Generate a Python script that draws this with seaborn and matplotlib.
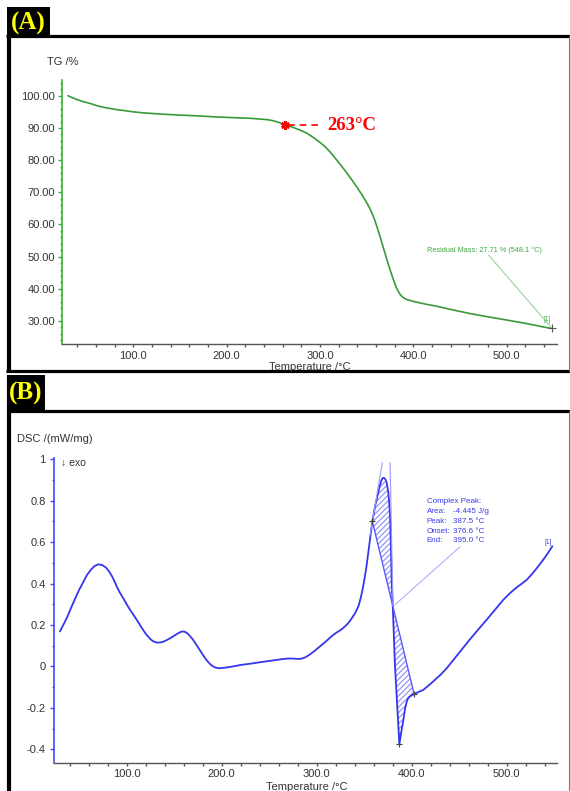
import numpy as np
import pandas as pd
import matplotlib
matplotlib.use("Agg")
import matplotlib.pyplot as plt
import seaborn as sns
from matplotlib.lines import Line2D
from matplotlib.patches import Rectangle
from matplotlib.ticker import MultipleLocator, FixedLocator, FixedFormatter, FormatStrFormatter

# ---------------- data ----------------
tg_temp = [30, 34, 38, 42, 46, 50, 55, 60, 64, 70, 76, 82, 90, 100, 110, 120, 136, 150,
           172, 190, 207, 225, 243, 249, 255, 259, 263, 270, 279, 285, 290, 295, 300, 305,
           310, 314, 318, 324, 330, 335, 340, 345, 350, 353, 356, 358.5, 361, 363.5, 366,
           369, 372, 375, 378, 380, 382, 384, 386, 388, 390, 393, 396, 400, 412, 425, 443,
           461, 478, 496, 514, 532, 540, 548.1]
tg_mass = [100.0, 99.5, 99.0, 98.6, 98.2, 97.9, 97.5, 97.0, 96.7, 96.3, 96.0, 95.7, 95.4,
           95.0, 94.7, 94.5, 94.2, 94.0, 93.7, 93.4, 93.2, 93.0, 92.6, 92.3, 91.8, 91.4,
           91.0, 90.3, 89.3, 88.5, 87.6, 86.6, 85.5, 84.3, 82.8, 81.45, 80.0, 77.8, 75.5,
           73.5, 71.4, 69.2, 66.8, 65.2, 63.3, 61.5, 59.3, 57.0, 54.6, 51.7, 48.8, 46.0,
           43.4, 41.8, 40.3, 39.1, 38.2, 37.6, 37.1, 36.7, 36.4, 36.1, 35.3, 34.6, 33.4,
           32.3, 31.4, 30.5, 29.6, 28.6, 28.1, 27.71]

dsc_temp = [29.8, 33, 37, 41, 45, 50, 54, 58, 62, 66, 70, 74, 78, 81, 84, 87, 89.5, 93, 95,
            100, 104, 107, 111, 116, 120, 124.5, 127, 130, 133, 136, 140, 145, 149, 153,
            157, 160, 163, 166, 170, 174, 178, 181, 185, 189, 193, 197, 202, 207, 212, 220,
            230, 240, 248, 256, 265, 270, 275, 280, 284, 288, 292, 297, 303, 310, 316, 321,
            325, 328, 332, 335, 338, 341, 344, 346, 348, 350, 352, 354, 356, 358.6, 361.5,
            364, 366.7, 368, 369.5, 371, 372.5, 373.7, 375.4, 376.3, 377.2, 378.2, 379,
            380, 381.2, 382.4, 383.7, 384.9, 386, 387, 388, 389, 391.2, 393, 394.8, 396.5,
            398.2, 402.5, 407, 412.3, 417, 422.8, 426, 430, 437, 444, 452, 461, 470, 479,
            488, 496.5, 503, 510, 516, 521, 526, 530, 535, 540, 544, 548]
dsc_val = [0.169, 0.198, 0.234, 0.278, 0.320, 0.370, 0.405, 0.440, 0.465, 0.484, 0.493,
           0.490, 0.478, 0.462, 0.440, 0.413, 0.386, 0.355, 0.340, 0.300, 0.270, 0.250,
           0.222, 0.185, 0.158, 0.134, 0.124, 0.117, 0.115, 0.116, 0.122, 0.134, 0.145,
           0.157, 0.167, 0.169, 0.163, 0.150, 0.128, 0.100, 0.072, 0.050, 0.025, 0.006,
           -0.005, -0.009, -0.007, -0.004, 0.000, 0.007, 0.013, 0.020, 0.025, 0.030, 0.036,
           0.038, 0.038, 0.036, 0.037, 0.044, 0.055, 0.072, 0.095, 0.122, 0.147, 0.164,
           0.175, 0.186, 0.203, 0.220, 0.240, 0.262, 0.292, 0.325, 0.365, 0.415, 0.470,
           0.540, 0.610, 0.700, 0.775, 0.825, 0.876, 0.897, 0.910, 0.910, 0.902, 0.886,
           0.839, 0.790, 0.725, 0.564, 0.404, 0.300, 0.150, 0.000, -0.105, -0.209, -0.300,
           -0.375, -0.348, -0.318, -0.258, -0.205, -0.169, -0.152, -0.145, -0.133, -0.124,
           -0.113, -0.095, -0.072, -0.058, -0.042, -0.008, 0.032, 0.078, 0.129, 0.178,
           0.226, 0.275, 0.322, 0.352, 0.380, 0.400, 0.418, 0.443, 0.465, 0.494, 0.525,
           0.552, 0.580]

onset_temp, onset_mass = 263, 90.9
residual_temp, residual_mass = 548.1, 27.71
base_start = (358.6, 0.700)
base_end = (402.5, -0.133)
dsc_min = (387.0, -0.375)
tangent1 = ([356.0, 369.1], [0.63, 0.984])
tangent2 = ([377.2, 380.3], [0.984, 0.293])

tg_xticks = [100, 200, 300, 400, 500]
tg_yticks = [30, 40, 50, 60, 70, 80, 90, 100]
dsc_xticks = [100, 200, 300, 400, 500]
dsc_yticks = [-0.4, -0.2, 0, 0.2, 0.4, 0.6, 0.8, 1]
dsc_ylabels = ["-0.4", "-0.2", "0", "0.2", "0.4", "0.6", "0.8", "1"]

peak_labels = ["Complex Peak:", "Area:", "Peak:", "Onset:", "End:"]
peak_values = ["", "-4.445 J/g", "387.5 \u00b0C", "376.6 \u00b0C", "395.0 \u00b0C"]

# ---------------- style ----------------
sns.set_style("white")
plt.rcParams["font.family"] = ["Liberation Sans", "DejaVu Sans"]
plt.rcParams["hatch.linewidth"] = 0.8

W, H = 570, 791
fig = plt.figure(figsize=(W / 100, H / 100), dpi=100)
fig.patch.set_facecolor("white")

def fx(x):
    return x / W

def fy(y):
    return 1 - y / H

GREEN = "#3a9a3a"
GSPINE = "#36b036"
BLUE = "#3535ee"
BSPINE = "#4848ff"
GRAY = "#555555"
TXT = "#333333"

# ---------------- frames ----------------
def seg(xs, ys, lw, color):
    fig.add_artist(Line2D([fx(v) for v in xs], [fy(v) for v in ys], transform=fig.transFigure,
                          lw=lw, color=color, solid_capstyle="butt"))

# panel A frame
seg([6, 570], [36, 36], 2.3, "black")
seg([8.5, 8.5], [34.5, 373], 3.0, "black")
seg([6, 570], [371.5, 371.5], 2.3, "black")
seg([568.5, 568.5], [36, 371], 0.8, "#777777")
fig.add_artist(Rectangle((fx(7), fy(38)), (50 - 7) / W, (38 - 7) / H, transform=fig.transFigure,
                         facecolor="black", edgecolor="none"))
fig.text(fx(28.5), fy(23), "(A)", color="#ffff00", fontsize=18, fontweight="bold",
         family=["Liberation Serif", "DejaVu Serif"], ha="center", va="center")

# panel B frame
seg([7, 570], [410.5, 410.5], 2.3, "black")
seg([8.5, 8.5], [375, 791], 3.0, "black")
seg([568.5, 568.5], [411, 791], 0.8, "#777777")
fig.add_artist(Rectangle((fx(7), fy(411)), (45 - 7) / W, (411 - 375) / H, transform=fig.transFigure,
                         facecolor="black", edgecolor="none"))
fig.text(fx(26), fy(393), "(B)", color="#ffff00", fontsize=18, fontweight="bold",
         family=["Liberation Serif", "DejaVu Serif"], ha="center", va="center")

# ---------------- panel A: TG ----------------
axA = fig.add_axes([fx(62), fy(344.3), (556.7 - 62) / W, (344.3 - 80) / H])
axA.set_facecolor("none")
dfA = pd.DataFrame({"T": tg_temp, "TG": tg_mass})
sns.lineplot(data=dfA, x="T", y="TG", ax=axA, color=GREEN, lw=1.2, estimator=None, sort=False)
axA.set_xlim(23.6, 553.6)
axA.set_ylim(22.76, 104.9)
axA.set_xlabel("")
axA.set_ylabel("")
for s in ["top", "right"]:
    axA.spines[s].set_visible(False)
axA.spines["left"].set_color(GSPINE)
axA.spines["left"].set_linewidth(1.2)
axA.spines["bottom"].set_color(GRAY)
axA.spines["bottom"].set_linewidth(1.0)
axA.xaxis.set_major_locator(FixedLocator(tg_xticks))
axA.xaxis.set_major_formatter(FormatStrFormatter("%.1f"))
axA.xaxis.set_minor_locator(MultipleLocator(20))
axA.yaxis.set_major_locator(FixedLocator(tg_yticks))
axA.yaxis.set_major_formatter(FormatStrFormatter("%.2f"))
axA.yaxis.set_minor_locator(MultipleLocator(2))
axA.tick_params(axis="y", which="major", direction="out", length=3, width=1, color=GSPINE,
                labelcolor=TXT, labelsize=8, pad=2, left=True)
axA.tick_params(axis="y", which="minor", direction="out", length=1.5, width=1, color=GSPINE, left=True)
axA.tick_params(axis="x", which="major", direction="out", length=2.5, width=1, color=GRAY,
                labelcolor=TXT, labelsize=8, pad=2, bottom=True)
axA.tick_params(axis="x", which="minor", direction="out", length=2, width=1, color=GRAY, bottom=True)

# onset marker and label
axA.plot([onset_temp + 3, onset_temp + 40], [onset_mass, onset_mass], color="red", lw=1.2,
         ls=(0, (4, 3)))
axA.plot([onset_temp], [onset_mass], marker=(6, 2, 0), color="red", ms=6, mew=2)
axA.text(onset_temp + 44.5, onset_mass, "263\u00b0C", color="red", fontsize=13.5, fontweight="bold",
         family=["Liberation Serif", "DejaVu Serif"], ha="left", va="center")

# residual mass annotation
axA.plot([480.5, residual_temp], [50.5, residual_mass + 0.2], color="#9ed09e", lw=0.8)
axA.plot([residual_temp], [residual_mass], marker="+", color="#555555", ms=6, mew=0.8)
axA.text(414.5, 51.9, "Residual Mass: 27.71 % (548.1 \u00b0C)", color="#40a840", fontsize=5.3,
         ha="left", va="center")
axA.text(543, 30.6, "[1]", color="#40a840", fontsize=4.8, ha="center", va="center")

fig.text(fx(47), fy(62), "TG /%", color=TXT, fontsize=8, ha="left", va="center")
fig.text(fx(310), fy(366.5), "Temperature /\u00b0C", color=TXT, fontsize=8, ha="center", va="center")

# ---------------- panel B: DSC ----------------
axB = fig.add_axes([fx(54), fy(762.7), (556.7 - 54) / W, (762.7 - 458.3) / H])
axB.set_facecolor("none")
dfB = pd.DataFrame({"T": dsc_temp, "DSC": dsc_val})

# hatched peak area between the curve and the baseline chord
t_arr = np.array(dsc_temp)
v_arr = np.array(dsc_val)
mask = (t_arr >= base_start[0]) & (t_arr <= base_end[0])
t_sel = t_arr[mask]
v_sel = v_arr[mask]
chord = np.interp(t_sel, [base_start[0], base_end[0]], [base_start[1], base_end[1]])
axB.fill_between(t_sel, v_sel, chord, facecolor="none", edgecolor="#8a8aff", hatch="//////", lw=0)

sns.lineplot(data=dfB, x="T", y="DSC", ax=axB, color=BLUE, lw=1.3, estimator=None, sort=False)

axB.plot([base_start[0], base_end[0]], [base_start[1], base_end[1]], color="#5a5aff", lw=1.0)
axB.plot(tangent1[0], tangent1[1], color="#9a9aff", lw=0.8)
axB.plot(tangent2[0], tangent2[1], color="#9a9aff", lw=0.8)
axB.plot([382.4, 450.9], [0.298, 0.578], color="#b0b0ff", lw=0.8)
for (tx, ty) in [base_start, base_end, dsc_min]:
    axB.plot([tx], [ty], marker="+", color="#444444", ms=5, mew=0.8)

axB.set_xlim(23.5, 552.6)
axB.set_ylim(-0.465, 1.005)
axB.set_xlabel("")
axB.set_ylabel("")
for s in ["top", "right"]:
    axB.spines[s].set_visible(False)
axB.spines["left"].set_color(BSPINE)
axB.spines["left"].set_linewidth(1.2)
axB.spines["bottom"].set_color(GRAY)
axB.spines["bottom"].set_linewidth(1.0)
axB.xaxis.set_major_locator(FixedLocator(dsc_xticks))
axB.xaxis.set_major_formatter(FormatStrFormatter("%.1f"))
axB.xaxis.set_minor_locator(MultipleLocator(20))
axB.yaxis.set_major_locator(FixedLocator(dsc_yticks))
axB.yaxis.set_major_formatter(FixedFormatter(dsc_ylabels))
axB.yaxis.set_minor_locator(MultipleLocator(0.1))
axB.tick_params(axis="y", which="major", direction="out", length=3, width=1, color=BSPINE,
                labelcolor=TXT, labelsize=8, pad=3, left=True)
axB.tick_params(axis="y", which="minor", direction="out", length=1.5, width=1, color=BSPINE, left=True)
axB.tick_params(axis="x", which="major", direction="out", length=2.5, width=1, color=GRAY,
                labelcolor=TXT, labelsize=8, pad=2, bottom=True)
axB.tick_params(axis="x", which="minor", direction="out", length=2, width=1, color=GRAY, bottom=True)

for i, (lab, val) in enumerate(zip(peak_labels, peak_values)):
    yv = 0.794 - i * 0.0468
    axB.text(415.8, yv, lab, color="#3a3aee", fontsize=5.8, ha="left", va="center")
    if val:
        axB.text(443.5, yv, val, color="#3a3aee", fontsize=5.8, ha="left", va="center")
axB.text(543.5, 0.598, "[1]", color="#3a3aee", fontsize=4.8, ha="center", va="center")

fig.text(fx(17), fy(439), "DSC /(mW/mg)", color=TXT, fontsize=8, ha="left", va="center")
fig.text(fx(61), fy(463), "\u2193 exo", color=TXT, fontsize=7.5, ha="left", va="center",
         family=["Liberation Sans", "DejaVu Sans"])
fig.text(fx(307), fy(786.5), "Temperature /\u00b0C", color=TXT, fontsize=8, ha="center", va="center")

fig.savefig("out.png", dpi=100, facecolor="white")
